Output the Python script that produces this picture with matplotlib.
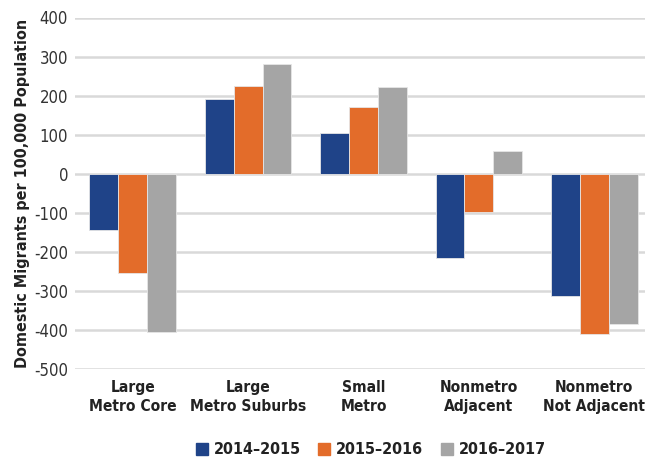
import matplotlib
matplotlib.use("Agg")
import matplotlib.pyplot as plt
from matplotlib import font_manager
import numpy as np
from matplotlib.lines import Line2D

# pick a condensed face if one is installed
names = {f.name for f in font_manager.fontManager.ttflist}
if "Liberation Sans Narrow" in names:
    plt.rcParams["font.family"] = ["Liberation Sans Narrow", "DejaVu Sans"]
else:
    plt.rcParams["font.family"] = ["DejaVu Sans"]
    plt.rcParams["font.stretch"] = "condensed"
plt.rcParams["axes.unicode_minus"] = False

categories = ["Large\nMetro Core", "Large\nMetro Suburbs", "Small\nMetro",
              "Nonmetro\nAdjacent", "Nonmetro\nNot Adjacent"]
series = ["2014\u20132015", "2015\u20132016", "2016\u20132017"]
v_2014 = [-143, 191, 105, -217, -312]
v_2015 = [-254, 225, 170, -99, -411]
v_2016 = [-404, 281, 221, 58, -386]
colors = ["#1f4388", "#e36c2a", "#a5a5a5"]

W, H = 645, 459
fig = plt.figure(figsize=(W / 100, H / 100), dpi=100)
ax = fig.add_axes([75 / W, 1 - 369 / H, 577 / W, (369 - 17.5) / H])

x = np.arange(len(categories))
width = 0.25
for i, (vals, c) in enumerate(zip([v_2014, v_2015, v_2016], colors)):
    ax.bar(x + (i - 1) * width, vals, width, color=c, edgecolor="#e6e6e6",
           linewidth=0.6, zorder=3)

ax.set_xlim(-0.5, len(categories) - 0.5)
ax.set_ylim(-500, 400)
ax.set_yticks(np.arange(-500, 401, 100))
ax.yaxis.grid(True, color="#d9d9d9", linewidth=1.8, zorder=0)
ax.set_axisbelow(True)
for s in ax.spines.values():
    s.set_visible(False)
ax.tick_params(axis="both", length=0)
ax.tick_params(axis="y", labelsize=12, labelcolor="#333333", pad=5)
ax.set_xticks(x)
ax.set_xticklabels(categories, fontsize=11.2, fontweight="bold", color="#222222",
                   linespacing=1.35)
ax.tick_params(axis="x", pad=8)
ax.set_ylabel("Domestic Migrants per 100,000 Population", fontsize=11.5,
              fontweight="bold", color="#222222", labelpad=3)

handles = [Line2D([], [], marker="s", linestyle="", markersize=8,
                  markerfacecolor=c, markeredgecolor=c) for c in colors]
fig.legend(handles, series, loc="center", bbox_to_anchor=(371 / W, 1 - 450 / H),
           ncol=3, frameon=False, handlelength=0.7, handletextpad=0.4,
           columnspacing=1.1, prop={"size": 11.5, "weight": "bold"},
           labelcolor="#222222")

fig.savefig("out.png", dpi=100)
